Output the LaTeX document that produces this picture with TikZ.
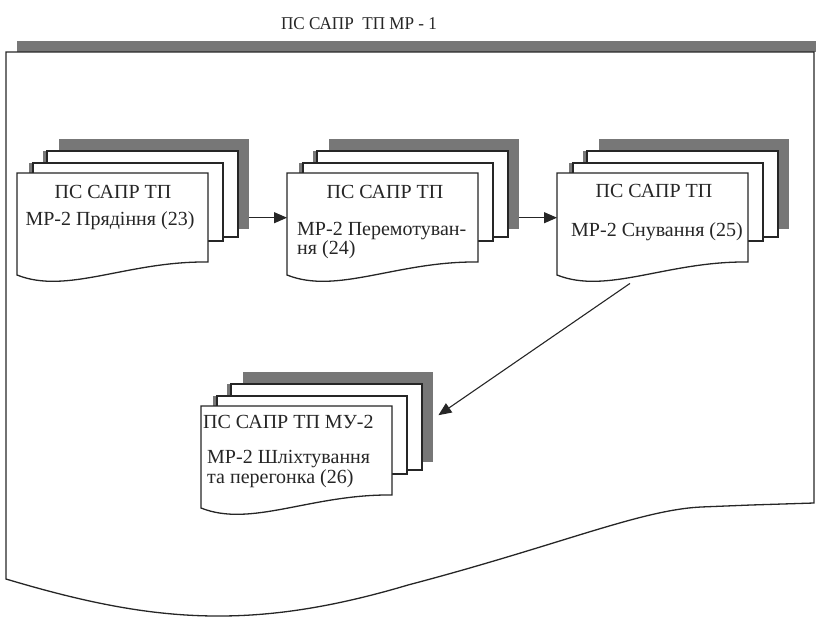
\documentclass[tikz,border=0pt]{standalone}
\usepackage{fontspec}
\setmainfont{Liberation Serif}
\usetikzlibrary{arrows.meta,calc}
\definecolor{shadowgray}{HTML}{777777}
\definecolor{ink}{HTML}{262626}
\tikzset{
 outline/.style={draw=ink, line width=1.3pt, line join=miter},
 layer/.style={outline, fill=white},
 backsheet/.style={fill=shadowgray, draw=none, inner sep=0pt, anchor=north west, minimum width=190pt, minimum height=90pt},
 frontarea/.style={draw=none, inner sep=0pt, anchor=north west, minimum width=191pt, minimum height=89pt},
 doctext/.style={font=\fontsize{20}{22}\selectfont, inner sep=0pt, text=ink},
 flow/.style={draw=ink, line width=1.1pt, -{Triangle[length=13pt,width=11pt]}},
}
\newcommand\mystack[3]{%
 \begin{scope}[shift={(#2,#3)}]
  \node[backsheet] (k#1) at (42,-34) {};
  \fill[shadowgray] (26,-22) rectangle (217,64);
  \draw[layer] (30,-22) rectangle (221,64);
  \fill[shadowgray] (12,-10) rectangle (202,68);
  \draw[layer] (16,-10) rectangle (206,68);
  \draw[layer] (0,0) -- (191,0) -- (191,89) .. controls (110,88) and (50,122) .. (0,102) -- cycle;
  \node[frontarea] (f#1) at (0,0) {};
 \end{scope}}
\begin{document}
\begin{tikzpicture}[x=1pt,y=-1pt]
\useasboundingbox (0,0) rectangle (816,616);
% title
\node[font=\fontsize{18}{20}\selectfont, text=ink, inner sep=0pt] (title) at (359,24) {\scalebox{0.95}[1]{ПС САПР\ \ ТП МР - 1}};
% outer document with its shadow
\fill[shadowgray] (17,41) rectangle (816,52);
\draw[outline] (814,503) -- (751,505) -- (701,507)
  .. controls (640,510) and (560,545) .. (408,585)
  .. controls (250,632) and (150,622) .. (6,579)
  -- (6,52) -- (814,52) -- cycle;
% stacks
\mystack{1}{17}{173}
\mystack{2}{287}{173}
\mystack{3}{557}{173}
\mystack{4}{201}{406}
% texts
\node[doctext, anchor=base] (a1) at (113,198) {ПС САПР ТП};
\node[doctext, anchor=base] (b1) at (110,225) {МР-2 Прядіння (23)};
\node[doctext, anchor=base] (a2) at (385,198) {ПС САПР ТП};
\node[doctext, anchor=base west] (b2) at (297,235) {МР-2 Перемотуван-};
\node[doctext, anchor=base west] (c2) at (297,254) {ня (24)};
\node[doctext, anchor=base] (a3) at (654,197) {ПС САПР ТП};
\node[doctext, anchor=base] (b3) at (657,236) {МР-2 Снування (25)};
\node[doctext, anchor=base west] (a4) at (203,428) {ПС САПР ТП МУ-2};
\node[doctext, anchor=base west] (b4) at (207,463) {МР-2 Шліхтування};
\node[doctext, anchor=base west] (c4) at (207,483) {та перегонка (26)};
% connectors
\draw[flow] (f1.east -| k1.east) -- (f2.west);
\draw[flow] (f2.east -| k2.east) -- (f3.west);
\coordinate (w3) at ($(f3.south west)+(73,21)$);
\coordinate (t4) at ($(k4.east)+(5,-2)$);
\draw[flow] (w3) -- (t4);
\end{tikzpicture}
\end{document}
